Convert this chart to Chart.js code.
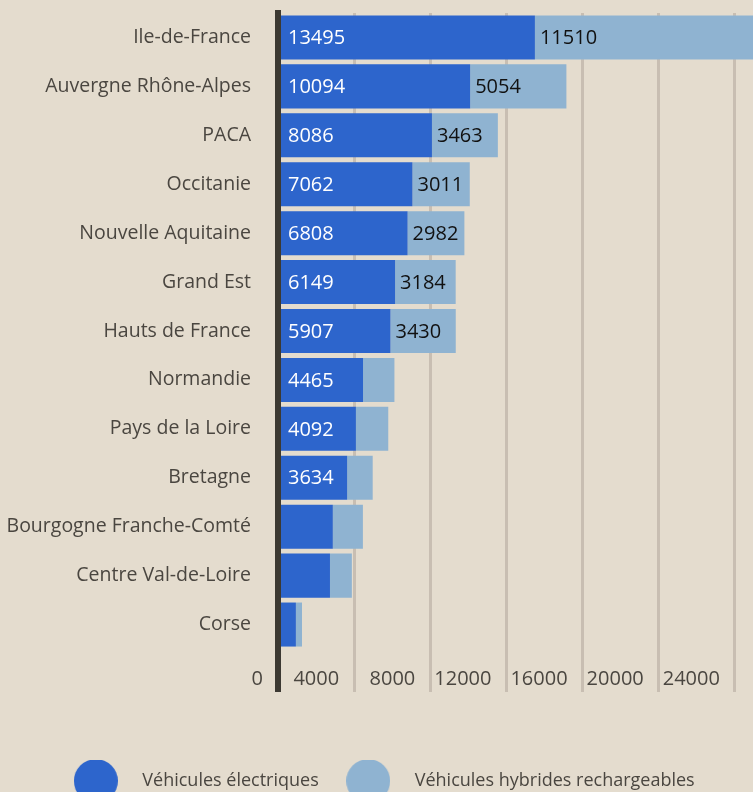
<!DOCTYPE html>
<html lang="fr">
<head>
<meta charset="utf-8">
<title>Véhicules électriques et hybrides rechargeables par région</title>
<script src="https://cdn.jsdelivr.net/npm/chart.js@4.4.1/dist/chart.umd.min.js"></script>
<style>
    html, body { margin: 0; padding: 0; background: #e4dcce; overflow: hidden; }
    #wrap { position: relative; width: 753px; height: 800px; }
</style>
</head>
<body>
<div id="wrap"><canvas id="chart"></canvas></div>
<script>
const regions = [
    'Ile-de-France', 'Auvergne Rhône-Alpes', 'PACA', 'Occitanie', 'Nouvelle Aquitaine',
    'Grand Est', 'Hauts de France', 'Normandie', 'Pays de la Loire', 'Bretagne',
    'Bourgogne Franche-Comté', 'Centre Val-de-Loire', 'Corse'
];
const electriques = [13495, 10094, 8086, 7062, 6808, 6149, 5907, 4465, 4092, 3634, 2880, 2730, 940];
const hybrides = [11510, 5054, 3463, 3011, 2982, 3184, 3430, 1650, 1700, 1340, 1580, 1150, 320];
const xTicks = [0, 4000, 8000, 12000, 16000, 20000, 24000];
const xMax = 24950;

// segments below this value get no label (same as the reference)
const minLabelValue = 2950;

const darkBlue = '#2d65cc';
const lightBlue = '#8fb3d1';
const textColor = '#4a4640';
const gridColor = '#c8beb2';
const axisColor = '#3c3932';

Chart.defaults.font.family = '"Open Sans", sans-serif';

// big round legend markers, drawn once as small canvases
function makeDot(color) {
    const c = document.createElement('canvas');
    c.width = 44;
    c.height = 44;
    const g = c.getContext('2d');
    g.fillStyle = color;
    g.beginPath();
    g.arc(22, 22, 22, 0, Math.PI * 2);
    g.fill();
    return c;
}

const barLabels = {
    id: 'barLabels',
    afterDatasetsDraw(chart) {
        const ctx = chart.ctx;
        ctx.save();
        ctx.font = '20px "Open Sans", sans-serif';
        ctx.textBaseline = 'middle';
        ctx.textAlign = 'left';
        chart.data.datasets.forEach((ds, i) => {
            chart.getDatasetMeta(i).data.forEach((bar, j) => {
                const v = ds.data[j];
                if (v < minLabelValue) return;
                ctx.fillStyle = ds.labelColor;
                ctx.fillText(String(v), Math.min(bar.base, bar.x) + ds.labelInset, bar.y + 1);
            });
        });
        ctx.restore();
    }
};

new Chart(document.getElementById('chart'), {
    type: 'bar',
    data: {
        labels: regions,
        datasets: [
            {
                label: 'Véhicules électriques',
                data: electriques,
                backgroundColor: darkBlue,
                labelColor: '#ffffff',
                labelInset: 7,
                barPercentage: 0.9,
                categoryPercentage: 1
            },
            {
                label: 'Véhicules hybrides rechargeables',
                data: hybrides,
                backgroundColor: lightBlue,
                labelColor: '#111111',
                labelInset: 5,
                barPercentage: 0.9,
                categoryPercentage: 1
            }
        ]
    },
    options: {
        indexAxis: 'y',
        responsive: true,
        maintainAspectRatio: false,
        animation: false,
        layout: { padding: { top: 13, left: 0, right: 0, bottom: 0 } },
        plugins: {
            tooltip: { enabled: false },
            legend: {
                position: 'bottom',
                labels: {
                    usePointStyle: true,
                    pointStyleWidth: 75,
                    padding: 12,
                    color: textColor,
                    font: { size: 18 },
                    generateLabels(chart) {
                        const items = Chart.defaults.plugins.legend.labels.generateLabels(chart);
                        items.forEach(it => {
                            it.pointStyle = makeDot(it.fillStyle);
                            it.lineWidth = 0;
                        });
                        return items;
                    }
                }
            }
        },
        scales: {
            x: {
                stacked: true,
                min: 0,
                max: xMax,
                afterBuildTicks: s => { s.ticks = xTicks.map(v => ({ value: v })); },
                afterFit: s => { s.height = 111; },
                border: { display: false },
                grid: {
                    color: c => (c.tick && c.tick.value === 0 ? axisColor : gridColor),
                    lineWidth: c => (c.tick && c.tick.value === 0 ? 6 : 3),
                    tickLength: 43
                },
                ticks: {
                    align: 'end',
                    labelOffset: -15,
                    padding: -25,
                    color: textColor,
                    font: { size: 20 },
                    callback: v => String(v)
                }
            },
            y: {
                stacked: true,
                afterFit: s => {
                    s.width = 278;
                    s.paddingTop = 0;
                    s.paddingBottom = 0;
                },
                grid: { display: false, drawTicks: false },
                border: { display: true, color: axisColor, width: 6, z: 1 },
                ticks: {
                    color: textColor,
                    font: { size: 19.5 },
                    padding: 27
                }
            }
        }
    },
    plugins: [barLabels]
});
</script>
</body>
</html>
